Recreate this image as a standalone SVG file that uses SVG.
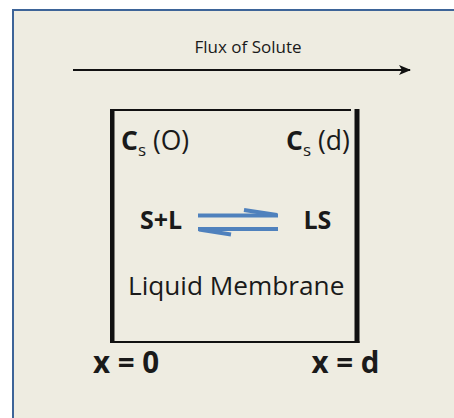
<svg xmlns="http://www.w3.org/2000/svg" width="454" height="418" viewBox="0 0 454 418">
  <defs>
    <style>
      text { font-family: "Open Sans", "Liberation Sans", sans-serif; fill: #1a1a1a; }
      .b { font-weight: bold; }
      .eq { stroke: #4F81BD; stroke-width: 4; fill: none; }
      .wall { fill: #111111; }
    </style>
    <marker id="ah" viewBox="0 0 12 10" refX="11" refY="5" markerWidth="12" markerHeight="10" markerUnits="userSpaceOnUse" orient="auto">
      <path d="M0,0 L12,5 L0,10 L3,5 Z" fill="#111111"/>
    </marker>
  </defs>
  <rect x="0" y="0" width="454" height="418" fill="#ffffff"/>
  <rect id="panel" x="13" y="10" width="460" height="430" fill="#EEECE1" stroke="#3D6498" stroke-width="2"/>

  <g id="connectors">
    <line x1="73" y1="70" x2="410" y2="70" stroke="#111111" stroke-width="2" marker-end="url(#ah)"/>
  </g>

  <g id="flux-label">
    <text x="248" y="53" font-size="17" text-anchor="middle">Flux of Solute</text>
  </g>

  <g id="membrane">
    <rect class="wall" x="110" y="109" width="4.5" height="234"/>
    <rect class="wall" x="354.5" y="109" width="5" height="234"/>
    <rect class="wall" x="113" y="109" width="238" height="2"/>
    <rect class="wall" x="110" y="341" width="249.5" height="2"/>
  </g>

  <g id="cs0">
    <text x="121" y="150" font-size="26.5"><tspan class="b">C</tspan><tspan font-size="17" dy="6">s</tspan><tspan dy="-6"> (O)</tspan></text>
  </g>
  <g id="csd">
    <text x="286" y="150" font-size="26.5"><tspan class="b">C</tspan><tspan font-size="17" dy="6">s</tspan><tspan dy="-6"> (d)</tspan></text>
  </g>

  <g id="reactants">
    <text class="b" x="140" y="229" font-size="25">S+L</text>
  </g>
  <g id="equilibrium">
    <line class="eq" x1="198" y1="215.5" x2="278" y2="215.5"/>
    <line class="eq" x1="244" y1="210" x2="277" y2="215"/>
    <line class="eq" x1="198" y1="229" x2="278" y2="229"/>
    <line class="eq" x1="199" y1="229.5" x2="231" y2="234.5"/>
  </g>
  <g id="product">
    <text class="b" x="303.5" y="229" font-size="25">LS</text>
  </g>

  <g id="membrane-label">
    <text x="128" y="295" font-size="26.2">Liquid Membrane</text>
  </g>

  <g id="x0">
    <text class="b" x="93" y="372.5" font-size="29.5">x = 0</text>
  </g>
  <g id="xd">
    <text class="b" x="311.5" y="372.5" font-size="29.5">x = d</text>
  </g>
</svg>
